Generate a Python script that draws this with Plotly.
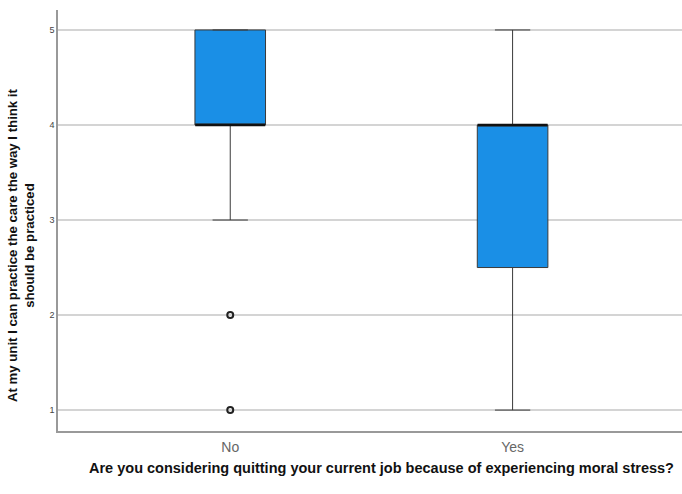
import plotly.graph_objects as go

categories = ["No", "Yes"]
q1 = [4, 2.5]
median = [4, 4]
q3 = [5, 4]
lower_fence = [3, 1]
upper_fence = [5, 5]
outlier_x = ["No", "No"]
outlier_y = [2, 1]
y_ticks = [1, 2, 3, 4, 5]

x_title = "Are you considering quitting your current job because of experiencing moral stress?"
y_title = "At my unit I can practice the care the way I think it<br>should be practiced"

fig = go.Figure()
fig.add_trace(go.Box(
    x=categories, q1=q1, median=median, q3=q3,
    lowerfence=lower_fence, upperfence=upper_fence,
    fillcolor="#1a8fe6", line=dict(color="#3a3a3a", width=1),
    width=0.25, whiskerwidth=0.5, boxpoints=False, showlegend=False,
    hoverinfo="skip",
))
# emphasised median line
fig.add_trace(go.Scatter(
    x=categories, y=median, mode="markers",
    marker=dict(symbol="line-ew", size=50, color="#111111", line=dict(width=2.5, color="#111111")),
    showlegend=False, hoverinfo="skip",
))
fig.add_trace(go.Scatter(
    x=outlier_x, y=outlier_y, mode="markers",
    marker=dict(symbol="circle-open", size=6, color="#222222", line=dict(width=2)),
    showlegend=False,
))

fig.update_layout(
    width=682, height=494,
    margin=dict(l=58, r=0, t=10, b=63),
    paper_bgcolor="white", plot_bgcolor="white",
    font=dict(family="Liberation Sans, Arial, sans-serif", color="#222"),
    xaxis=dict(
        type="category", range=[-0.61, 1.6], automargin=False,
        showgrid=False, showline=True, linecolor="#999", linewidth=1.5,
        ticks="", tickfont=dict(size=14, color="#666"), ticklabelstandoff=2,
    ),
    yaxis=dict(
        range=[0.78, 5.21], tickvals=y_ticks, ticktext=[str(v) for v in y_ticks],
        automargin=False,
        showgrid=True, gridcolor="#d4d4d4", gridwidth=2,
        showline=True, linecolor="#999", linewidth=1.5, zeroline=False,
        ticks="", tickfont=dict(size=9, color="#444"),
    ),
    annotations=[
        dict(text="<b>" + x_title + "</b>", xref="paper", yref="paper",
             x=(381 - 58) / 624, y=-(468 - 431) / 421, xanchor="center", yanchor="middle",
             showarrow=False, font=dict(size=14.5, color="#111")),
        dict(text="<b>" + y_title + "</b>", xref="paper", yref="paper",
             x=-(58 - 21) / 624, y=(431 - 245) / 421, xanchor="center", yanchor="middle",
             textangle=-90, showarrow=False, font=dict(size=13.2, color="#111")),
    ],
)
fig.write_html("out.html", config={"displayModeBar": False},
               post_script="document.body.style.margin='0';")
